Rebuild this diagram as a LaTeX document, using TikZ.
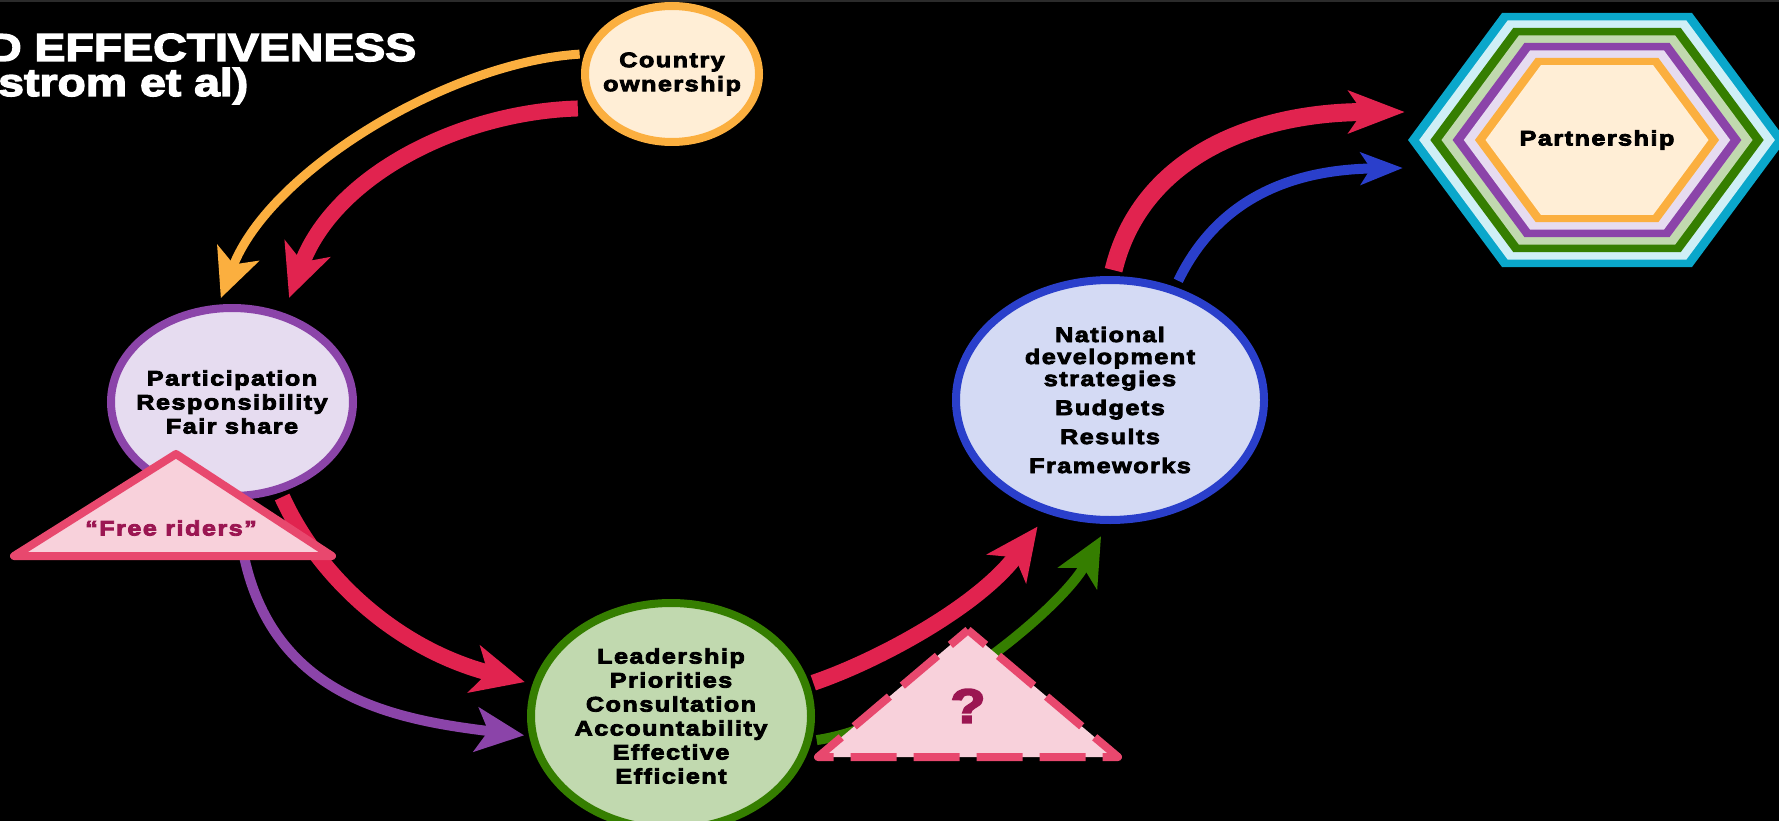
\documentclass[tikz,border=0pt]{standalone}
\usepackage{fontspec}
\setmainfont{Liberation Sans}
\newfontfamily\titlefont[FakeStretch=1.19,FakeBold=3.5]{Liberation Sans Bold}
\newfontfamily\nodefont[FakeStretch=1.2,LetterSpace=7,FakeBold=4]{Liberation Sans Bold}
\usepackage{tikz}
\usetikzlibrary{shapes.geometric}
\usetikzlibrary{positioning, arrows.meta, shapes}
\usepackage{xcolor}

\definecolor{edgegray}{HTML}{2B2B2B}
\definecolor{orangeline}{HTML}{FBAF3F}
\definecolor{orangefill}{HTML}{FFEED6}
\definecolor{redline}{HTML}{E1234F}
\definecolor{purpleline}{HTML}{8B44A9}
\definecolor{purplefill}{HTML}{E6DCF0}
\definecolor{greenline}{HTML}{357E00}
\definecolor{greenfill}{HTML}{C1D9AF}
\definecolor{blueline}{HTML}{2A3FCB}
\definecolor{bluefill}{HTML}{D4DAF4}
\definecolor{cyanline}{HTML}{0AA7CB}
\definecolor{cyanfill}{HTML}{CFEFF6}
\definecolor{warnline}{HTML}{E8486E}
\definecolor{warnfill}{HTML}{F8D1DB}
\definecolor{warnmark}{HTML}{9B1652}

\begin{document}
\begin{tikzpicture}[x=1pt, y=-1pt]
    % Define styles
    \tikzstyle{bubble} = [ellipse, draw, line width=8pt, inner sep=0pt]
    \tikzstyle{bubbletext} = [font=\nodefont\fontsize{21}{24}\selectfont, align=center, inner sep=0pt]
    \tikzstyle{titletext} = [font=\titlefont\fontsize{39}{35}\selectfont, text=white, inner sep=0pt, align=left, anchor=base west]
    \tikzstyle{warning} = [draw=warnline, fill=warnfill, line width=8pt, line join=round]
    \tikzstyle{warntext} = [font=\nodefont\fontsize{21}{24}\selectfont, text=warnmark, inner sep=0pt]
    \tikzstyle{thickflow} = [line width=16pt, -{Stealth[length=52pt, width=48pt, inset=14pt]}]
    \tikzstyle{thinflow} = [line width=10pt, -{Stealth[length=48pt, width=44pt, inset=12pt]}]

    % Canvas
    \useasboundingbox (0,0) rectangle (1779,821);
    \fill[black] (0,0) rectangle (1779,821);
    \fill[edgegray] (0,0) rectangle (1779,2);

    % Title
    \node[titletext] (title) at (-12,96) {D EFFECTIVENESS\\\hspace*{10pt}strom et al)};

    % Partnership hexagon
    \coordinate (hexc) at (1597,140);
    \foreach \s/\c in {1/cyanline, 0.941/cyanfill, 0.882/greenline, 0.823/greenfill, 0.764/purpleline, 0.705/purplefill, 0.646/orangeline, 0.59/orangefill}
        \fill[\c, shift={(hexc)}, scale=\s] (-189,0) -- (-95,-127) -- (95,-127) -- (189,0) -- (95,127) -- (-95,127) -- cycle;
    \node[bubbletext, minimum width=378pt, minimum height=254pt] (partner) at (hexc) {Partnership};

    % Bubbles
    \node[bubble, draw=orangeline, fill=orangefill, minimum width=174pt, minimum height=136pt,
          label={[bubbletext]center:{Country\\ownership}}] (country) at (672,74) {};
    \node[bubble, draw=purpleline, fill=purplefill, minimum width=242pt, minimum height=188pt,
          label={[bubbletext]center:{Participation\\Responsibility\\Fair share}}] (part) at (232,402) {};
    \node[bubble, draw=greenline, fill=greenfill, minimum width=280pt, minimum height=226pt,
          label={[bubbletext]center:{Leadership\\Priorities\\Consultation\\Accountability\\Effective\\Efficient}}] (lead) at (671,716) {};
    \node[bubble, draw=blueline, fill=bluefill, minimum width=308pt, minimum height=240pt,
          label={[bubbletext, font=\nodefont\fontsize{21}{22}\selectfont]center:{National\\development\\strategies\\[7pt]Budgets\\[7pt]Results\\[7pt]Frameworks}}] (nat) at (1110,400) {};

    % Arrows
    \draw[thinflow, orangeline, line width=9pt, shorten <=5pt, shorten >=7pt] (country.167) .. controls (450,62) and (270,170) .. (part.98);
    \draw[thickflow, redline, shorten <=14pt, shorten >=16pt] (country.203) .. controls (460,112) and (335,175) .. (part.60);
    \draw[thickflow, redline, shorten <=5pt, shorten >=8pt] (part.298) .. controls (320,580) and (400,650) .. (lead.167);
    \draw[thinflow, purpleline, shorten >=5pt] (part.273) .. controls (245,690) and (380,718) .. (lead.188);
    \draw[thickflow, redline, shorten <=4pt, shorten >=16pt] (lead.13) .. controls (880,660) and (980,605) .. (nat.241);
    \draw[thinflow, greenline, shorten <=5pt, shorten >=14pt] (lead.350) .. controls (920,725) and (1060,610) .. (nat.269);
    \draw[redline, line width=18pt, -{Stealth[length=56pt, width=42pt, inset=14pt]}, shorten <=6pt] (nat.89) .. controls (1140,160) and (1250,112) .. ([shift={(-3,-28)}]partner.west);
    \draw[blueline, line width=10pt, -{Stealth[length=42pt, width=32pt, inset=10pt]}, shorten <=7pt] (nat.60) .. controls (1210,215) and (1270,170) .. ([shift={(-5,28)}]partner.west);

    % Warning triangles
    \draw[warning] (176,454) -- (332,556) -- (14,556) -- cycle;
    \node[warntext] (riders) at (171,528) {“Free riders”};
    \draw[warning, dash pattern=on 46pt off 17pt, dash phase=23pt] (968,630) -- (1118,757) -- (818,757) -- cycle;
    \node[warntext, font=\nodefont\fontsize{48}{50}\selectfont] (doubt) at (968,706) {?};
\end{tikzpicture}
\end{document}
